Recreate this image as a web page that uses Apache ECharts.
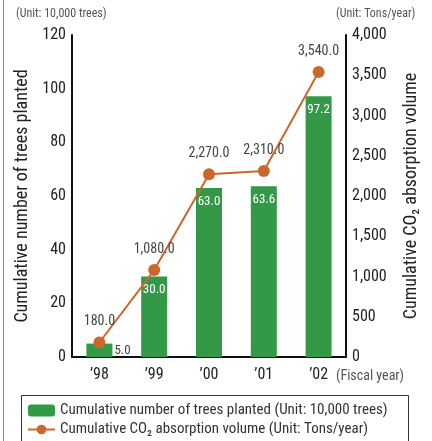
<!DOCTYPE html>
<html><head><meta charset="utf-8">
<script src="https://cdn.jsdelivr.net/npm/echarts@6/dist/echarts.min.js"></script>
<style>html,body{margin:0;padding:0;background:#fff}#c{width:432px;height:441px}</style>
</head><body><div id="c"></div>
<script>
const years = ['\u201998', '\u201999', '\u201900', '\u201901', '\u201902'];
const trees = [5.0, 30.0, 63.0, 63.6, 97.2];
const co2 = [180.0, 1080.0, 2270.0, 2310.0, 3540.0];
const leftTicks = { min: 0, max: 120, interval: 20 };
const rightTicks = { min: 0, max: 4000, interval: 500 };
const treesName = 'Cumulative number of trees planted (Unit: 10,000 trees)';
const co2Name = 'Cumulative CO\u2082 absorption volume (Unit: Tons/year)';

const FONT = '"Liberation Sans Narrow", "Roboto Condensed", "Liberation Sans", sans-serif';
const GREEN = '#339947';
const ORANGE = '#cc672c';
const chart = echarts.init(document.getElementById('c'));
const fmt = v => v.toLocaleString('en-US');
const fmt1 = v => v.toLocaleString('en-US', {minimumFractionDigits: 1, maximumFractionDigits: 1});

chart.setOption({
  animation: false,
  textStyle: { fontFamily: FONT },
  grid: { left: 72, right: 86, top: 35, bottom: 84 },
  graphic: [
    { type: 'line', shape: { x1: 3.5, y1: 0, x2: 3.5, y2: 441 }, style: { stroke: '#888', lineWidth: 1 } },
    { type: 'text', left: 16, top: 8, style: { text: '(Unit: 10,000 trees)', font: '12px ' + FONT, fill: '#555' } },
    { type: 'text', left: 336, top: 8, style: { text: '(Unit: Tons/year)', font: '12px ' + FONT, fill: '#555' } },
    { type: 'text', left: 336, top: 369, style: { text: '(Fiscal year)', font: '14px ' + FONT, fill: '#555' } },
    { type: 'rect', shape: { x: 21.5, y: 395.5, width: 387, height: 60 }, style: { fill: 'none', stroke: '#333', lineWidth: 1 } }
  ],
  legend: {
    orient: 'vertical', left: 27, top: 403, itemGap: 4, itemWidth: 27, itemHeight: 12, padding: 0,
    textStyle: { fontFamily: FONT, fontSize: 15, color: '#333' },
    data: [treesName, co2Name]
  },
  xAxis: {
    type: 'category', data: years,
    axisLine: { lineStyle: { color: '#111', width: 2 } },
    axisTick: { show: false },
    axisLabel: { fontSize: 16, color: '#222', margin: 10, fontFamily: FONT }
  },
  yAxis: [
    {
      type: 'value', min: leftTicks.min, max: leftTicks.max, interval: leftTicks.interval,
      name: 'Cumulative number of trees planted', nameLocation: 'middle', nameGap: 40, nameRotate: 90,
      nameTextStyle: { fontSize: 18, color: '#222', fontFamily: FONT },
      axisLine: { show: true, lineStyle: { color: '#111', width: 2 } },
      axisTick: { show: false }, splitLine: { show: false },
      axisLabel: { fontSize: 16, color: '#222', margin: 6, fontFamily: FONT }
    },
    {
      type: 'value', min: rightTicks.min, max: rightTicks.max, interval: rightTicks.interval,
      name: 'Cumulative CO\u2082 absorption volume', nameLocation: 'middle', nameGap: 56, nameRotate: 90,
      nameTextStyle: { fontSize: 18, color: '#222', fontFamily: FONT },
      axisLine: { show: true, lineStyle: { color: '#111', width: 2 } },
      axisTick: { show: false }, splitLine: { show: false },
      axisLabel: { fontSize: 16, color: '#222', margin: 6, fontFamily: FONT, formatter: v => fmt(v) }
    }
  ],
  series: [
    {
      name: treesName, type: 'bar', yAxisIndex: 0, barWidth: 26,
      itemStyle: { color: GREEN },
      data: trees.map((v, i) => i === 0 ? { value: v, label: { position: 'right', color: '#444', distance: 2 } } : v),
      label: { show: true, position: 'insideTop', distance: 7, color: '#fff', fontSize: 13, fontFamily: FONT, formatter: p => fmt1(p.value) }
    },
    {
      name: co2Name, type: 'line', yAxisIndex: 1,
      symbol: 'circle', symbolSize: 12,
      lineStyle: { color: ORANGE, width: 2 }, itemStyle: { color: ORANGE },
      data: co2,
      label: { show: true, position: 'top', distance: 8, color: '#444', fontSize: 14, fontFamily: FONT, formatter: p => fmt1(p.value) }
    }
  ]
});
</script></body></html>
